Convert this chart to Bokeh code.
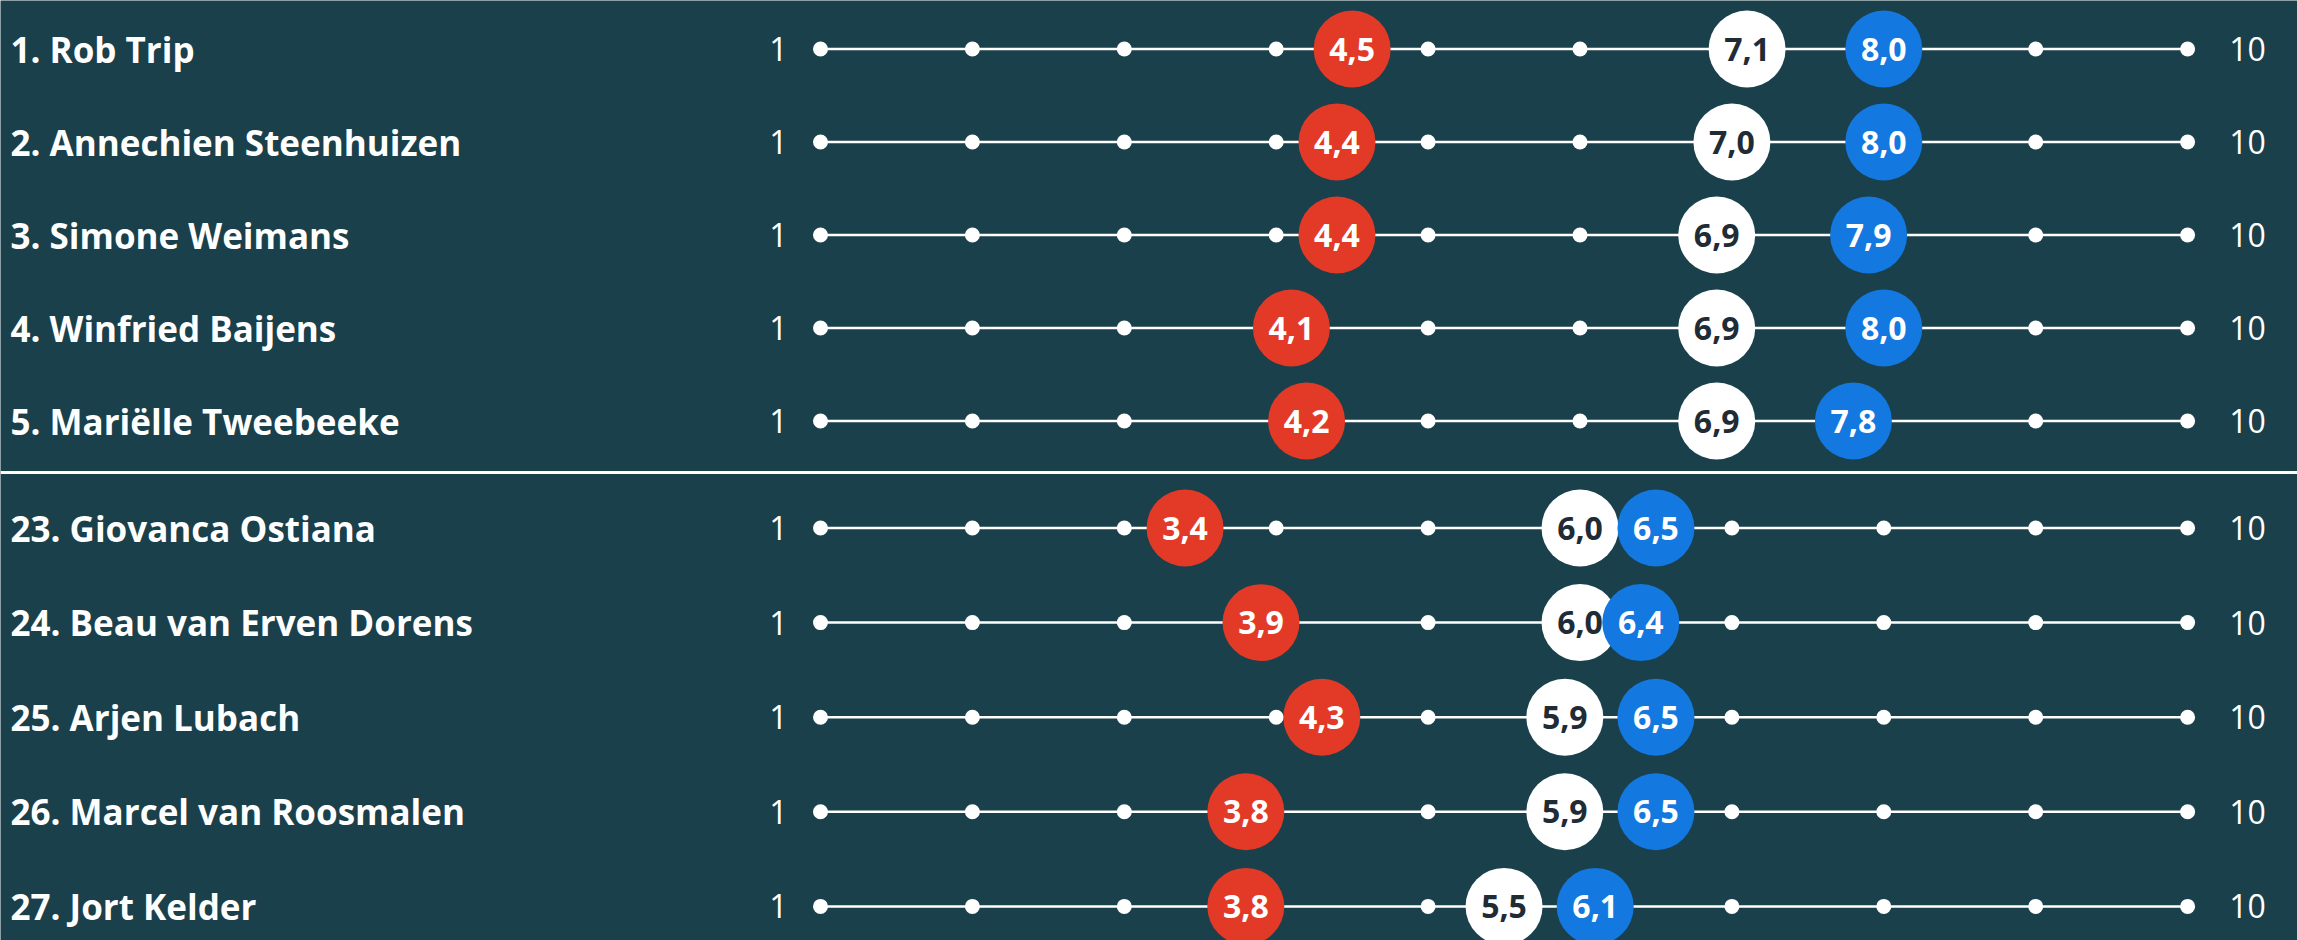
from bokeh.plotting import figure
from bokeh.models import Range1d, Span, ColumnDataSource
from bokeh.core.properties import value
from bokeh.embed import file_html
from bokeh.resources import INLINE

# ---- data ----
names = ["1. Rob Trip", "2. Annechien Steenhuizen", "3. Simone Weimans",
         "4. Winfried Baijens", "5. Mariëlle Tweebeeke",
         "23. Giovanca Ostiana", "24. Beau van Erven Dorens", "25. Arjen Lubach",
         "26. Marcel van Roosmalen", "27. Jort Kelder"]
red_scores = [4.5, 4.4, 4.4, 4.1, 4.2, 3.4, 3.9, 4.3, 3.8, 3.8]
white_scores = [7.1, 7.0, 6.9, 6.9, 6.9, 6.0, 6.0, 5.9, 5.9, 5.5]
blue_scores = [8.0, 8.0, 7.9, 8.0, 7.8, 6.5, 6.4, 6.5, 6.5, 6.1]
scale_ticks = [1, 2, 3, 4, 5, 6, 7, 8, 9, 10]
top_group = 5

# ---- layout ----
W, H = 2297, 940
px_per_unit = 151.9
x_first_px = 820.0          # screen x of value 1 inside the figure
x_start = scale_ticks[0] - x_first_px / px_per_unit
x_end = x_start + W / px_per_unit

def row_y(i):
    if i < top_group:
        return 48.5 + 93.0 * i
    return 527.5 + 94.6 * (i - top_group)

ys = [row_y(i) for i in range(len(names))]
sep_y = 472

BG = "#1a404b"
RED = "#e23a27"
BLUE = "#1378df"
DARK = "#1f2c35"
FONT = "Open Sans"

def fmt(v):
    return f"{v:.1f}".replace(".", ",")

p = figure(width=W, height=H, output_backend="svg", toolbar_location=None,
           x_range=Range1d(x_start, x_end), y_range=Range1d(H, 0),
           min_border=0, background_fill_color=BG, border_fill_color=BG,
           outline_line_color=None)
p.axis.visible = False
p.grid.visible = False

# scale lines
p.segment(x0=[scale_ticks[0]] * len(ys), x1=[scale_ticks[-1]] * len(ys), y0=ys, y1=ys,
          line_color="white", line_width=2.5)

# tick dots
tx, ty = [], []
for y in ys:
    for t in scale_ticks:
        tx.append(t)
        ty.append(y)
p.scatter(x=tx, y=ty, size=15, marker="circle", fill_color="white", line_color=None)

# scale end labels
unit = 1.0 / px_per_unit
p.text(x=[scale_ticks[0] - 42 * unit] * len(ys), y=ys, text=[str(scale_ticks[0])] * len(ys),
       text_color="white", text_font=value(FONT), text_font_size="32px",
       text_align="center", text_baseline="middle")
p.text(x=[scale_ticks[-1] + 60 * unit] * len(ys), y=ys, text=[str(scale_ticks[-1])] * len(ys),
       text_color="white", text_font=value(FONT), text_font_size="32px",
       text_align="center", text_baseline="middle")

# names
p.text(x=[x_start + 10 * unit] * len(ys), y=ys, text=names,
       text_color="white", text_font=value(FONT), text_font_style="bold",
       text_font_size="35px", text_align="left", text_baseline="middle")

# score circles
for scores, fill, tcol in [(red_scores, RED, "white"), (white_scores, "white", DARK),
                           (blue_scores, BLUE, "white")]:
    src = ColumnDataSource(dict(x=scores, y=ys, lab=[fmt(v) for v in scores]))
    p.scatter(x="x", y="y", source=src, size=77, marker="circle",
              fill_color=fill, line_color=None)
    p.text(x="x", y="y", text="lab", source=src, text_color=tcol,
           text_font=value(FONT), text_font_style="bold", text_font_size="32px",
           text_align="center", text_baseline="middle")

# separator
p.add_layout(Span(location=sep_y, dimension="width", line_color="white", line_width=3))

open("out.html", "w").write(file_html(p, INLINE))
